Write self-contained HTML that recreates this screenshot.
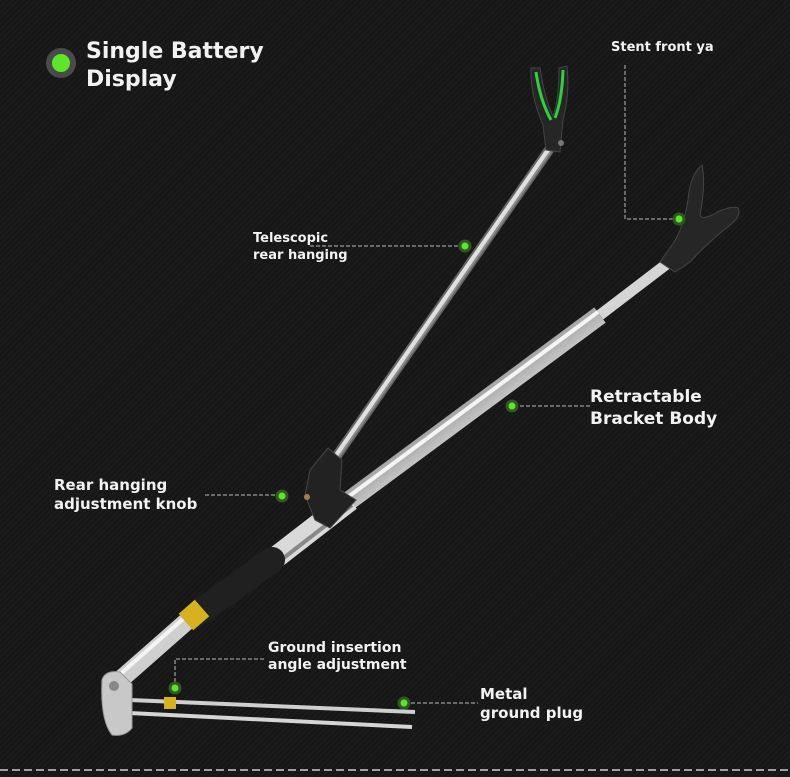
<!DOCTYPE html>
<html><head><meta charset="utf-8"><style>
html,body{margin:0;padding:0;background:#151515;}
svg{display:block}
text{font-family:"DejaVu Sans","Liberation Sans",sans-serif;font-weight:bold;fill:#f2f2f2}
</style></head><body>
<svg width="790" height="777" viewBox="0 0 790 777" xmlns="http://www.w3.org/2000/svg">
<defs>
<linearGradient id="steel" x1="0" y1="0" x2="1" y2="1">
<stop offset="0" stop-color="#f4f4f4"/><stop offset="0.45" stop-color="#9a9a9a"/><stop offset="0.6" stop-color="#e8e8e8"/><stop offset="1" stop-color="#6a6a6a"/>
</linearGradient>
<pattern id="bg" width="4" height="4" patternUnits="userSpaceOnUse" patternTransform="rotate(45)">
<rect width="4" height="4" fill="#161616"/><rect width="2" height="4" fill="#1b1b1b"/>
</pattern>
</defs>
<rect width="790" height="777" fill="url(#bg)"/>
<line x1="0" y1="770" x2="790" y2="770" stroke="#ccc" stroke-width="1.5" stroke-dasharray="8,4"/>

<circle cx="61" cy="63" r="15" fill="#4a4a4a"/>
<circle cx="61" cy="63" r="9" fill="#5de52a"/>
<text x="86" y="58" font-size="22">Single Battery</text>
<text x="86" y="86" font-size="22">Display</text>

<!-- rear rod -->
<line x1="549" y1="150" x2="320" y2="480" stroke="#666" stroke-width="10" stroke-linecap="round"/>
<line x1="549" y1="150" x2="320" y2="480" stroke="#e0e0e0" stroke-width="6"/>
<line x1="551" y1="151" x2="322" y2="481" stroke="#8a8a8a" stroke-width="2"/>
<!-- rear Y holder -->
<path d="M531 68 Q530 95 543 125 L546 150 L560 152 L563 120 Q570 95 567 66 L559 68 Q559 100 553 116 Q545 100 540 68 Z" fill="#262626" stroke="#444"/>
<path d="M536 72 Q540 100 551 120 M563 70 Q562 100 555 118" stroke="#2fd13b" stroke-width="3" fill="none"/>
<circle cx="561" cy="143" r="3" fill="#777"/>

<!-- front rod -->
<line x1="672" y1="260" x2="600" y2="315" stroke="#d5d5d5" stroke-width="11"/>
<line x1="600" y1="315" x2="350" y2="500" stroke="url(#steel)" stroke-width="19"/>
<line x1="598" y1="312" x2="348" y2="497" stroke="#f5f5f5" stroke-width="4"/>
<line x1="350" y1="500" x2="270" y2="562" stroke="#d9d9d9" stroke-width="22"/>
<line x1="352" y1="505" x2="272" y2="567" stroke="#888" stroke-width="4"/>
<line x1="272" y1="560" x2="200" y2="612" stroke="#202020" stroke-width="26" stroke-linecap="round"/>
<line x1="202" y1="608" x2="186" y2="622" stroke="#d8b21d" stroke-width="22"/>
<line x1="186" y1="622" x2="120" y2="680" stroke="#cfcfcf" stroke-width="18"/>
<line x1="183" y1="619" x2="117" y2="677" stroke="#f5f5f5" stroke-width="4"/>
<!-- front Y holder -->
<path d="M660 262 L672 245 Q683 230 688 200 Q690 175 702 165 Q706 185 700 215 Q702 220 712 215 Q730 205 738 208 Q742 215 730 225 Q705 245 690 262 L675 272 Z" fill="#262626" stroke="#444"/>
<!-- knob -->
<path d="M310 470 L328 448 L342 460 L340 490 L356 500 L330 528 L315 520 L305 495 Z" fill="#222" stroke="#444"/>
<circle cx="307" cy="497" r="3" fill="#a08050"/>

<!-- base & spikes -->
<line x1="130" y1="700" x2="415" y2="712" stroke="#cfcfcf" stroke-width="4"/>
<line x1="110" y1="712" x2="412" y2="727" stroke="#d5d5d5" stroke-width="4"/>
<rect x="164" y="697" width="12" height="12" fill="#d8b21d"/>
<path d="M102 680 Q105 670 120 672 L132 684 L132 728 Q125 737 112 735 Q100 720 102 680 Z" fill="#c8c8c8" stroke="#999"/>
<circle cx="114" cy="686" r="5" fill="#888"/>

<g stroke="#bbb" stroke-width="1" stroke-dasharray="4,2" fill="none">
<polyline points="625,65 625,219 679,219"/>
<polyline points="310,246 465,246"/>
<polyline points="520,406 590,406"/>
<polyline points="205,495 282,495"/>
<polyline points="175,688 175,659 265,659"/>
<polyline points="405,703 478,703"/>
</g>
<g fill="#5de52a" stroke="#2d5a1e" stroke-width="3">
<circle cx="679" cy="219" r="5"/>
<circle cx="465" cy="246" r="5"/>
<circle cx="512" cy="406" r="5"/>
<circle cx="282" cy="496" r="5"/>
<circle cx="175" cy="688" r="5"/>
<circle cx="404" cy="703" r="5"/>
</g>
<text x="611" y="51" font-size="13">Stent front ya</text>
<text x="253" y="242" font-size="13">Telescopic</text>
<text x="253" y="259" font-size="13">rear hanging</text>
<text x="590" y="402" font-size="17">Retractable</text>
<text x="590" y="424" font-size="17">Bracket Body</text>
<text x="54" y="490" font-size="15">Rear hanging</text>
<text x="54" y="509" font-size="15">adjustment knob</text>
<text x="268" y="652" font-size="14">Ground insertion</text>
<text x="268" y="669" font-size="14">angle adjustment</text>
<text x="480" y="699" font-size="15">Metal</text>
<text x="480" y="718" font-size="15">ground plug</text>
</svg>
</body></html>
